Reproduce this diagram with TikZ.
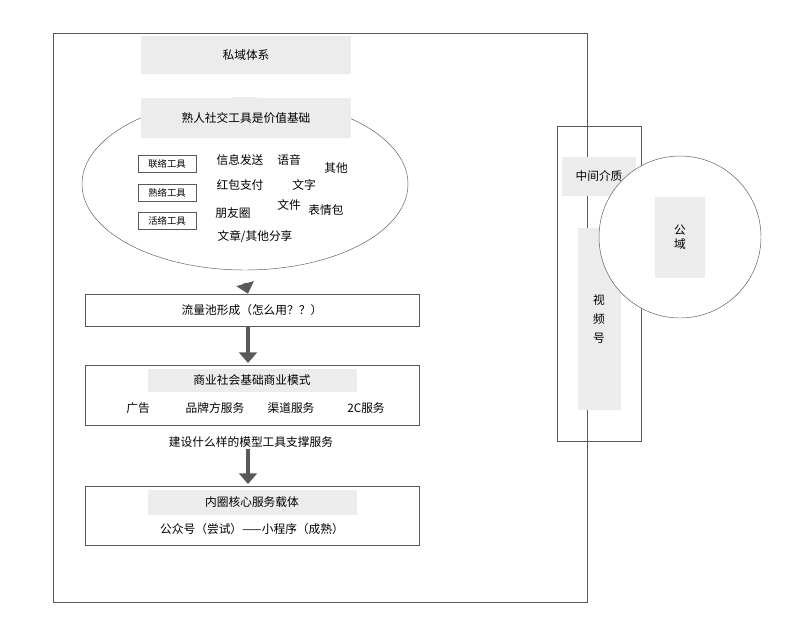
\documentclass[tikz,border=0pt]{standalone}
\usepackage{fontspec}
\setmainfont{Noto Sans CJK SC}
\usetikzlibrary{shapes,arrows,positioning}
\usetikzlibrary{arrows.meta}

\tikzset{
  graybox/.style={fill=gray!15, draw=none, inner sep=0pt},
  tagbox/.style={draw=gray!70!black, fill=white, inner sep=0pt, font=\fontsize{8}{9}\selectfont},
  framebox/.style={draw=gray!70!black, thin},
  txt/.style={font=\fontsize{10}{12}\selectfont, inner sep=1pt},
  bigarrow/.style={draw=gray!70!black, line width=3.5pt, -{Triangle[length=9pt,width=15pt]}}
}

\begin{document}
\begin{tikzpicture}[x=0.03cm, y=-0.03cm, font=\fontsize{10}{12}\selectfont]
\useasboundingbox (0,0) rectangle (786,642);

% Outer frame
\draw[framebox] (53,33) rectangle (587,602);
\node[graybox, minimum width=210*0.03cm, minimum height=38*0.03cm] (title) at (246,55) {私域体系};

% Ellipse with tools
\node[draw=gray!70!black, ellipse, minimum width=326*0.03cm, minimum height=172*0.03cm] (ell) at (245,184) {};
\node[graybox, minimum width=210*0.03cm, minimum height=40*0.03cm] (base) at (246,118) {熟人社交工具是价值基础};
\node[tagbox, minimum width=58*0.03cm, minimum height=17*0.03cm] (t1) at (167,164) {联络工具};
\node[tagbox, minimum width=58*0.03cm, minimum height=17*0.03cm] (t2) at (167,193) {熟络工具};
\node[tagbox, minimum width=58*0.03cm, minimum height=17*0.03cm] (t3) at (167,221) {活络工具};
\node[txt] (w1) at (240,160) {信息发送};
\node[txt] (w2) at (289,160) {语音};
\node[txt] (w3) at (336,168) {其他};
\node[txt] (w4) at (240,185) {红包支付};
\node[txt] (w5) at (304,185) {文字};
\node[txt] (w6) at (289,205) {文件};
\node[txt] (w7) at (326,210) {表情包};
\node[txt] (w8) at (233,213) {朋友圈};
\node[txt] (w9) at (255,237) {文章/其他分享};

% Flow pool
\node[framebox, draw, minimum width=334*0.03cm, minimum height=32*0.03cm] (pool) at (252,310) {流量池形成（怎么用？？）};

% Business model
\draw[framebox] (85,365) rectangle (419,425);
\node[graybox, minimum width=209*0.03cm, minimum height=23*0.03cm] (biz) at (252,380) {商业社会基础商业模式};
\node[txt] (b1) at (138,408) {广告};
\node[txt] (b2) at (215,408) {品牌方服务};
\node[txt] (b3) at (291,408) {渠道服务};
\node[txt] (b4) at (366,408) {2C服务};
\coordinate (bizN) at (248,363);
\node[txt] (q) at (251,442) {建设什么样的模型工具支撑服务};

% Core carriers
\draw[framebox] (85,486) rectangle (419,545);
\node[graybox, minimum width=209*0.03cm, minimum height=25*0.03cm] (core) at (252,502) {内圈核心服务载体};
\node[txt] (c1) at (252,529) {公众号（尝试）——小程序（成熟）};
\coordinate (coreN) at (248,484);

% Arrows
\draw[bigarrow] ([yshift=-13*0.03cm]ell.south) -- ([xshift=-4*0.03cm]pool.north);
\draw[bigarrow] ([xshift=-4*0.03cm]pool.south) -- (bizN);
\draw[bigarrow] ([xshift=-3*0.03cm]q.south) -- (coreN);

% Right side
\draw[framebox] (557,126) rectangle (641,441);
\node[graybox, minimum width=74*0.03cm, minimum height=39*0.03cm] (mid) at (599,176) {中间介质};
\node[graybox, minimum width=43*0.03cm, minimum height=182*0.03cm, align=center] (video) at (599,319) {视\\[4pt]频\\[4pt]号};
\node[circle, draw=gray!70!black, fill=white, minimum size=162*0.03cm] (pub) at (680,237) {};
\node[graybox, minimum width=50*0.03cm, minimum height=81*0.03cm, align=center] (pubtxt) at (680,237) {公\\域};
\end{tikzpicture}
\end{document}
